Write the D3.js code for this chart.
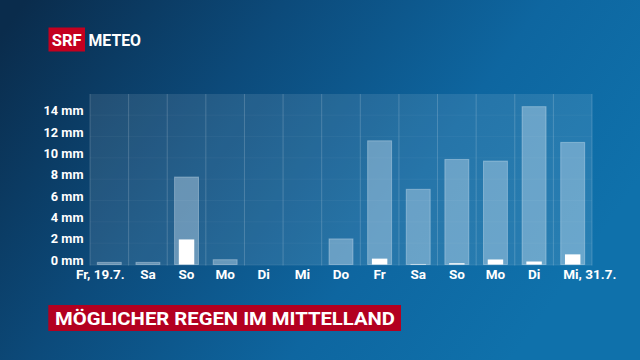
<!DOCTYPE html>
<html><head><meta charset="utf-8">
<script src="https://cdn.jsdelivr.net/npm/d3@7"></script>
<style>html,body{margin:0;padding:0;background:#0b3559;}svg{display:block;}</style>
</head><body>
<svg id="c" width="640" height="360"></svg>
<script>
const days = ["Fr, 19.7.","Sa","So","Mo","Di","Mi","Do","Fr","Sa","So","Mo","Di","Mi, 31.7."];
const possibleRain = [0.2,0.2,8.2,0.45,0,0,2.4,11.6,7.05,9.85,9.7,14.8,11.45];
const expectedRain = [0,0,2.35,0,0,0,0,0.55,0.05,0.12,0.47,0.28,0.95];
const yTicks = [0,2,4,6,8,10,12,14];
const title = "MÖGLICHER REGEN IM MITTELLAND";

const svg = d3.select("#c");
const defs = svg.append("defs");
const g = defs.append("linearGradient").attr("id","bg").attr("x1","0").attr("y1","0.1").attr("x2","1").attr("y2","0.5");
g.append("stop").attr("offset","0").attr("stop-color","#0a2c4c");
g.append("stop").attr("offset","0.35").attr("stop-color","#0c4a7a");
g.append("stop").attr("offset","0.7").attr("stop-color","#0e66a0");
g.append("stop").attr("offset","1").attr("stop-color","#0f71ab");
svg.append("rect").attr("width",640).attr("height",360).attr("fill","url(#bg)");

const pLeft=90, pRight=592, pTop=94, pBase=264.5;
const x = d3.scaleBand().domain(d3.range(days.length)).range([pLeft,pRight]).padding(0);
const y = d3.scaleLinear().domain([0,14]).range([pBase, pBase-149.3]);

// plot area
svg.append("rect").attr("x",pLeft).attr("y",pTop).attr("width",pRight-pLeft).attr("height",pBase-pTop+1)
  .attr("fill","#ffffff").attr("fill-opacity",0.1);
// faint gridlines
svg.append("g").selectAll("line").data(yTicks).join("line")
  .attr("x1",pLeft).attr("x2",pRight).attr("y1",d=>y(d)).attr("y2",d=>y(d))
  .attr("stroke","#fff").attr("stroke-opacity",0.04);
// separators
svg.append("g").selectAll("line").data(d3.range(days.length+1)).join("line")
  .attr("x1",d=>d<days.length?x(d):pRight).attr("x2",d=>d<days.length?x(d):pRight)
  .attr("y1",pTop).attr("y2",pBase+1)
  .attr("stroke","#fff").attr("stroke-opacity",0.18).attr("stroke-width",1);

const bw = x.bandwidth();
svg.append("g").selectAll("rect").data(possibleRain).join("rect")
  .attr("x",(d,i)=>x(i)+bw*0.19).attr("width",bw*0.62)
  .attr("y",d=>y(d)).attr("height",d=>pBase-y(d))
  .attr("fill","#cfe3f2").attr("fill-opacity",0.4)
  .attr("stroke","#e6f1fa").attr("stroke-opacity",0.35).attr("stroke-width",1);
svg.append("g").selectAll("rect").data(expectedRain).join("rect")
  .attr("x",(d,i)=>x(i)+bw*0.3).attr("width",bw*0.4)
  .attr("y",d=>y(d)).attr("height",d=>pBase-y(d))
  .attr("fill","#ffffff");

// y labels
svg.append("g").selectAll("text").data(yTicks).join("text")
  .attr("x",83.5).attr("y",d=>y(d)-4.5).attr("dy","0.36em")
  .attr("text-anchor","end").attr("fill","#fff")
  .attr("font-family","Roboto, 'Open Sans', sans-serif").attr("font-weight","bold").attr("font-size",12.8)
  .text(d=>d+" mm");

// x labels
svg.append("g").selectAll("text").data(days).join("text")
  .attr("x",(d,i)=>{
    const c=x(i)+bw/2;
    if(i===0) return c+15.5;
    if(i===days.length-1) return c-9.5;
    return c;
  })
  .attr("y",274.5).attr("dy","0.36em")
  .attr("text-anchor",(d,i)=>i===0?"end":(i===days.length-1?"start":"middle"))
  .attr("fill","#fff")
  .attr("font-family","Roboto, 'Open Sans', sans-serif").attr("font-weight","bold").attr("font-size",13.5)
  .text(d=>d);

// logo
svg.append("rect").attr("x",48.5).attr("y",27.5).attr("width",36.5).attr("height",24).attr("fill","#c4001f");
svg.append("text").attr("x",66.7).attr("y",45.5).attr("text-anchor","middle").attr("fill","#fff")
  .attr("font-family","Roboto, sans-serif").attr("font-weight","bold").attr("font-size",16.5)
  .attr("textLength",30).attr("lengthAdjust","spacingAndGlyphs").text("SRF");
svg.append("text").attr("x",88.5).attr("y",45.5).attr("fill","#fff")
  .attr("font-family","Roboto, sans-serif").attr("font-weight","bold").attr("font-size",16.5)
  .attr("textLength",52.5).attr("lengthAdjust","spacingAndGlyphs").text("METEO");

// title banner
svg.append("rect").attr("x",48.3).attr("y",305).attr("width",352.7).attr("height",26).attr("fill","#b30020");
svg.append("text").attr("x",55).attr("y",324.8).attr("fill","#fff")
  .attr("font-family","Roboto, sans-serif").attr("font-weight","bold").attr("font-size",18.5)
  .attr("textLength",340).attr("lengthAdjust","spacingAndGlyphs").text(title);
</script>
</body></html>
